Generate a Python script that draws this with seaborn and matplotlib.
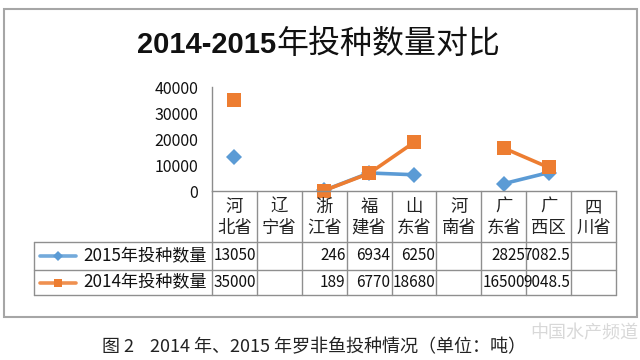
import numpy as np
import pandas as pd
import seaborn as sns
import matplotlib.pyplot as plt
from matplotlib.lines import Line2D
from matplotlib.patches import Rectangle
from matplotlib import transforms

provinces = ['河北省', '辽宁省', '浙江省', '福建省', '山东省', '河南省', '广东省', '广西区', '四川省']
val_2015 = [13050, np.nan, 246, 6934, 6250, np.nan, 2825, 7082.5, np.nan]
val_2014 = [35000, np.nan, 189, 6770, 18680, np.nan, 16500, 9048.5, np.nan]
series_names = ['2015年投种数量', '2014年投种数量']
y_ticks = [0, 10000, 20000, 30000, 40000]

title_num = '2014-2015'
title_cn = '年投种数量对比'
caption = '图 2    2014 年、2015 年罗非鱼投种情况（单位：吨）'

colors = ['#5B9BD5', '#ED7D31']
markers = ['D', 's']
msizes = [8.5, 10]

sns.set_theme(style='white')
plt.rcParams['font.family'] = ['Noto Sans CJK SC', 'DejaVu Sans']

W, H = 640, 360
fig = plt.figure(figsize=(6.4, 3.6), dpi=100)
fig.patch.set_facecolor('white')


def fx(px):
    return px / W


def fy(px):
    return 1 - px / H


# plot area
ax_left, ax_right, ax_top, ax_bottom = 212, 616, 87, 191
ax = fig.add_axes([fx(ax_left), fy(ax_bottom), fx(ax_right - ax_left), (ax_bottom - ax_top) / H])

for vals, color, mk, ms in zip([val_2015, val_2014], colors, markers, msizes):
    v = np.array(vals, dtype=float)
    df = pd.DataFrame({'pos': np.arange(len(provinces)), 'value': v,
                       'run': np.cumsum(np.isnan(v))})
    df = df.dropna()
    sns.lineplot(data=df, x='pos', y='value', units='run', estimator=None,
                 color=color, marker=mk, markersize=ms, markeredgewidth=0,
                 linewidth=2.6, ax=ax, legend=False)

for ln in ax.lines:
    ln.set_clip_on(False)

ax.set_xlim(-0.5, len(provinces) - 0.5)
ax.set_ylim(0, 40000)
ax.set_yticks(y_ticks)
ax.set_yticklabels([str(t) for t in y_ticks], fontsize=11.5, color='#111111')
ax.set_xticks([])
ax.set_xlabel('')
ax.set_ylabel('')
ax.tick_params(axis='y', length=0, pad=10)
for s in ['top', 'right']:
    ax.spines[s].set_visible(False)
for s in ['left', 'bottom']:
    ax.spines[s].set_color('#8c8c8c')
    ax.spines[s].set_linewidth(1)
ax.set_facecolor('white')

# data table
grid_c = '#8f8f8f'
tbl_left = 34
hdr_bottom = 242
row_bounds = [242, 270, 295]
trans = transforms.blended_transform_factory(ax.transData, fig.transFigure)

for i in range(len(provinces) + 1):
    xb = i - 0.5
    fig.add_artist(Line2D([xb, xb], [fy(ax_bottom), fy(row_bounds[-1])],
                          transform=trans, color=grid_c, lw=1))
for yb in row_bounds:
    fig.add_artist(Line2D([fx(tbl_left), fx(ax_right)], [fy(yb), fy(yb)],
                          transform=fig.transFigure, color=grid_c, lw=1))
fig.add_artist(Line2D([fx(tbl_left), fx(tbl_left)], [fy(row_bounds[0]), fy(row_bounds[-1])],
                      transform=fig.transFigure, color=grid_c, lw=1))

for i, p in enumerate(provinces):
    fig.text(i, fy((ax_bottom + hdr_bottom) / 2 + 1), p[0] + '\n' + p[1:],
             transform=trans, ha='center', va='center', fontsize=12.5,
             linespacing=1.2, color='#222222')

val_trans = transforms.offset_copy(trans, fig=fig, x=-1, units='dots')
for r, vals in enumerate([val_2015, val_2014]):
    yc = (row_bounds[r] + row_bounds[r + 1]) / 2
    for i, v in enumerate(vals):
        if np.isnan(v):
            continue
        fig.text(i + 0.5, fy(yc), f'{v:g}', transform=val_trans,
                 ha='right', va='center', fontsize=11, color='#111111')
    # legend key
    fig.add_artist(Line2D([fx(40), fx(76)], [fy(yc), fy(yc)], transform=fig.transFigure,
                          color=colors[r], lw=2.6, alpha=0.85))
    fig.add_artist(Line2D([fx(58)], [fy(yc)], transform=fig.transFigure, color=colors[r],
                          marker=markers[r], markersize=msizes[r] * 0.6, markeredgewidth=0))
    fig.text(fx(83), fy(yc), series_names[r], ha='left', va='center',
             fontsize=12.3, color='#111111')

# title
fig.text(fx(276), fy(53), title_num, ha='right', va='baseline', fontsize=21,
         fontweight='bold', family=['Liberation Sans', 'DejaVu Sans'], color='#111111')
fig.text(fx(276), fy(53), title_cn, ha='left', va='baseline', fontsize=23,
         color='#111111')

# chart border
fig.add_artist(Rectangle((fx(4), fy(317)), fx(633), (317 - 9) / H, transform=fig.transFigure,
                         fill=False, edgecolor='#a6a6a6', lw=1.5))

# caption and watermark
fig.text(fx(314), fy(347), caption, ha='center', va='center', fontsize=13, color='#222222')
fig.text(fx(584), fy(333), '中国水产频道', ha='center', va='center', fontsize=13,
         color='#c8c8c8', alpha=0.7, style='italic')

fig.savefig('out.png', dpi=100, facecolor='white')
